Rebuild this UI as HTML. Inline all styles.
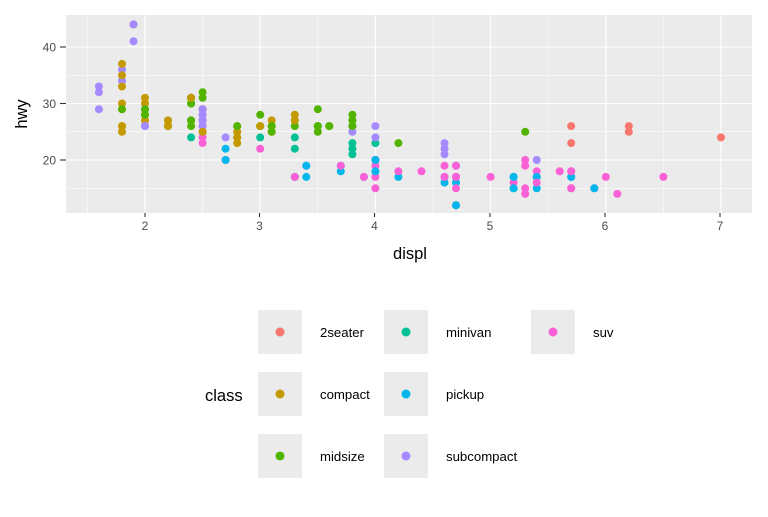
<!DOCTYPE html>
<html><head><meta charset="utf-8"><style>
html,body{margin:0;padding:0;background:#fff;}
svg text{font-family:"Liberation Sans",Arial,sans-serif;}
</style></head><body>
<svg id="s" width="768" height="512" viewBox="0 0 768 512" xmlns="http://www.w3.org/2000/svg">
<rect x="0" y="0" width="768" height="512" fill="#fff"/>
<rect x="66" y="15" width="686" height="198" fill="#EBEBEB"/>
<g id="grid"></g>
<g id="pts"></g>
<g fill="#4D4D4D" font-size="12" text-anchor="end">
<text x="56" y="51.5">40</text><text x="56" y="108">30</text><text x="56" y="164.5">20</text>
</g>
<g stroke="#333" stroke-width="1.1">
<line x1="60" y1="47" x2="66" y2="47"/><line x1="60" y1="103.5" x2="66" y2="103.5"/><line x1="60" y1="160" x2="66" y2="160"/>
<line x1="145" y1="213" x2="145" y2="217"/><line x1="259.5" y1="213" x2="259.5" y2="217"/><line x1="374.5" y1="213" x2="374.5" y2="217"/><line x1="490" y1="213" x2="490" y2="217"/><line x1="605" y1="213" x2="605" y2="217"/><line x1="720" y1="213" x2="720" y2="217"/>
</g>
<g fill="#4D4D4D" font-size="12" text-anchor="middle">
<text x="145" y="230">2</text><text x="259.5" y="230">3</text><text x="374.5" y="230">4</text><text x="490" y="230">5</text><text x="605" y="230">6</text><text x="720" y="230">7</text>
</g>
<text x="410" y="259" font-size="16.5" text-anchor="middle" fill="#000">displ</text>
<text transform="translate(27,114) rotate(-90)" font-size="16.5" text-anchor="middle" fill="#000">hwy</text>
<text x="205" y="401" font-size="16.5" fill="#000">class</text>
<g fill="#EBEBEB">
<rect x="258" y="310" width="44" height="44"/><rect x="258" y="372" width="44" height="44"/><rect x="258" y="434" width="44" height="44"/>
<rect x="384" y="310" width="44" height="44"/><rect x="384" y="372" width="44" height="44"/><rect x="384" y="434" width="44" height="44"/>
<rect x="531" y="310" width="44" height="44"/>
</g>
<circle cx="280" cy="332" r="4.5" fill="#F8766D"/>
<circle cx="280" cy="394" r="4.5" fill="#C49A00"/>
<circle cx="280" cy="456" r="4.5" fill="#53B400"/>
<circle cx="406" cy="332" r="4.5" fill="#00C094"/>
<circle cx="406" cy="394" r="4.5" fill="#00B6EB"/>
<circle cx="406" cy="456" r="4.5" fill="#A58AFF"/>
<circle cx="553" cy="332" r="4.5" fill="#FB61D7"/>
<g font-size="13.2" fill="#000">
<text x="320" y="337">2seater</text><text x="320" y="399">compact</text><text x="320" y="461">midsize</text>
<text x="446" y="337">minivan</text><text x="446" y="399">pickup</text><text x="446" y="461">subcompact</text>
<text x="593" y="337">suv</text>
</g>
</svg>
<script>
(function(){
var NS="http://www.w3.org/2000/svg";
function X(d){return 145+(d-2)*115.2;}
function Y(h){return 160-(h-20)*5.65;}
var g=document.getElementById("grid");
function ln(x1,y1,x2,y2,w){var l=document.createElementNS(NS,"line");l.setAttribute("x1",x1);l.setAttribute("y1",y1);l.setAttribute("x2",x2);l.setAttribute("y2",y2);l.setAttribute("stroke","#fff");l.setAttribute("stroke-width",w);g.appendChild(l);}
[1.5,2.5,3.5,4.5,5.5,6.5].forEach(function(d){ln(X(d),15,X(d),213,0.55);});
[15,25,35].forEach(function(h){ln(66,Y(h),752,Y(h),0.55);});
[2,3,4,5,6,7].forEach(function(d){ln(X(d),15,X(d),213,1.1);});
[20,30,40].forEach(function(h){ln(66,Y(h),752,Y(h),1.1);});
var C={t:"#F8766D",c:"#C49A00",m:"#53B400",v:"#00C094",p:"#00B6EB",s:"#A58AFF",u:"#FB61D7"};
var D=[
["c",[[1.8,29],[2,31],[2,30],[2.8,26],[3.1,27],[1.8,26],[1.8,25],[2,28],[2,27],[2.8,25],[3.1,25]]],
["m",[[2.8,24],[3.1,25],[4.2,23]]],
["u",[[5.3,20],[5.3,15],[5.7,17],[6,17]]],
["t",[[5.7,26],[5.7,23],[6.2,26],[6.2,25],[7,24]]],
["u",[[5.3,19],[5.3,14],[5.7,15],[6.5,17]]],
["m",[[2.4,27],[2.4,30],[3.1,26],[3.5,29],[3.6,26]]],
["v",[[2.4,24],[3,24],[3.3,22],[3.3,24],[3.3,17],[3.8,22],[3.8,21],[3.8,23],[4,23]]],
["p",[[3.7,19],[3.7,18],[3.9,17],[4.7,19],[4.7,12],[5.2,17],[5.2,15]]],
["u",[[3.9,17],[4.7,17],[4.7,12],[5.2,16],[5.7,18],[5.9,15]]],
["p",[[4.7,16],[4.7,12],[4.7,17],[5.2,15],[5.2,17],[5.7,17],[5.9,15]]],
["u",[[4.6,17],[5.4,17],[5.4,18],[4,17],[4,19],[4.6,19],[5,17]]],
["p",[[4.2,17],[4.6,16],[4.6,17],[5.4,15],[5.4,17]]],
["s",[[3.8,26],[3.8,25],[4,26],[4,24],[4.6,21],[4.6,22],[4.6,23],[5.4,20]]],
["s",[[1.6,33],[1.6,32],[1.6,29],[1.8,34],[1.8,36],[2,29]]],
["m",[[2.4,26],[2.4,27],[2.4,30],[2.4,31],[2.5,31],[3.3,26],[3.3,27]]],
["s",[[2,26],[2.7,24],[2,28]]],
["u",[[3,22],[3.7,19],[4,20],[4.7,17],[4.7,19],[5.7,18],[6.1,14]]],
["u",[[4,15],[4.2,18],[4.4,18],[4.6,17],[5.4,16]]],
["m",[[2.5,32],[2.5,27],[2.5,26],[3.5,26],[3.5,25],[3,26],[3.5,26]]],
["u",[[3.3,17],[4,20],[5.6,18]]],
["m",[[3.1,26],[3.8,28],[3.8,26],[3.8,27],[5.3,25]]],
["u",[[2.5,25],[2.5,24],[2.5,27],[2.5,26],[2.5,23]]],
["s",[[2.2,26],[2.5,26],[2.5,27],[2.5,25],[2.5,27],[2.5,29],[2.5,28]]],
["u",[[2.7,20],[3.4,19],[4,20],[4.7,17]]],
["m",[[2.2,26],[2.2,27],[2.4,31],[3,26],[3,28],[3.5,26]]],
["c",[[2.2,26],[2.2,27],[2.4,31],[3,26],[3.3,27],[3.3,28],[1.8,35],[1.8,37],[1.8,33],[1.8,26],[1.8,30]]],
["u",[[4.7,15],[5.7,15]]],
["p",[[2.7,20],[2.7,22],[3.4,17],[3.4,19],[4,20],[4,18]]],
["c",[[2,29],[2,28],[2.8,23],[2.8,24],[2,29],[2.5,29],[2.5,25],[1.9,44]]],
["s",[[1.9,44],[1.9,41],[2,29],[2,26],[2.5,29],[2.5,28]]],
["m",[[1.8,29],[2,28],[2,29],[2.8,26],[3.6,26]]]
];
var p=document.getElementById("pts");
D.forEach(function(grp){grp[1].forEach(function(q){var c=document.createElementNS(NS,"circle");c.setAttribute("cx",X(q[0]).toFixed(1));c.setAttribute("cy",Y(q[1]).toFixed(1));c.setAttribute("r","4");c.setAttribute("fill",C[grp[0]]);p.appendChild(c);});});
})();
</script>
</body></html>
